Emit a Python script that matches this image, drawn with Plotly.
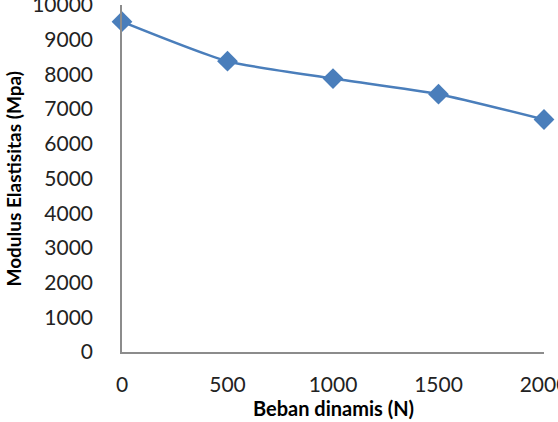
import plotly.graph_objects as go

beban = [0, 500, 1000, 1500, 2000]
modulus = [9520, 8380, 7880, 7430, 6700]
x_ticks = [0, 500, 1000, 1500, 2000]
x_labels = ["0", "500", "1000", "1500", "2000"]
y_ticks = list(range(0, 10001, 1000))
y_labels = [str(v) for v in y_ticks]

fig = go.Figure()
fig.add_trace(go.Scatter(
    x=beban, y=modulus, mode="lines+markers",
    line=dict(color="#4a7ebb", width=2.5, shape="spline", smoothing=0.6),
    marker=dict(symbol="diamond", size=16, color="#4a7ebb"),
    cliponaxis=False, showlegend=False,
))

font = dict(family="Lato, Open Sans, sans-serif", size=21, color="#222222")
fig.update_layout(
    width=558, height=422,
    margin=dict(l=122, r=14, t=5, b=70, autoexpand=False),
    paper_bgcolor="white", plot_bgcolor="white",
    font=font,
    xaxis=dict(range=[0, 2000], tickvals=x_ticks, ticktext=x_labels,
               showgrid=False, zeroline=False, automargin=False,
               showline=True, linecolor="#8c8c8c", linewidth=1.5,
               ticks="", ticklabelstandoff=13, tickfont=font,
               ticklabeloverflow="allow"),
    yaxis=dict(range=[0, 10000], tickvals=y_ticks, ticktext=y_labels,
               showgrid=False, zeroline=False, automargin=False,
               showline=True, linecolor="#8c8c8c", linewidth=1.5,
               ticks="", ticklabelstandoff=23, tickfont=font,
               ticklabeloverflow="allow"),
    annotations=[
        dict(text="<b>Modulus Elastisitas (Mpa)</b>", xref="paper", yref="paper",
             x=-109/422, y=0.5, xanchor="center", yanchor="middle",
             textangle=-90, showarrow=False,
             font=dict(family="Lato, Open Sans, sans-serif", size=19, color="#000000")),
        dict(text="<b>Beban dinamis (N)</b>", xref="paper", yref="paper",
             x=0.5, y=-70/347, yanchor="bottom", yshift=0, showarrow=False,
             font=dict(family="Lato, Open Sans, sans-serif", size=20, color="#000000")),
    ],
)
fig.write_html("out.html")
